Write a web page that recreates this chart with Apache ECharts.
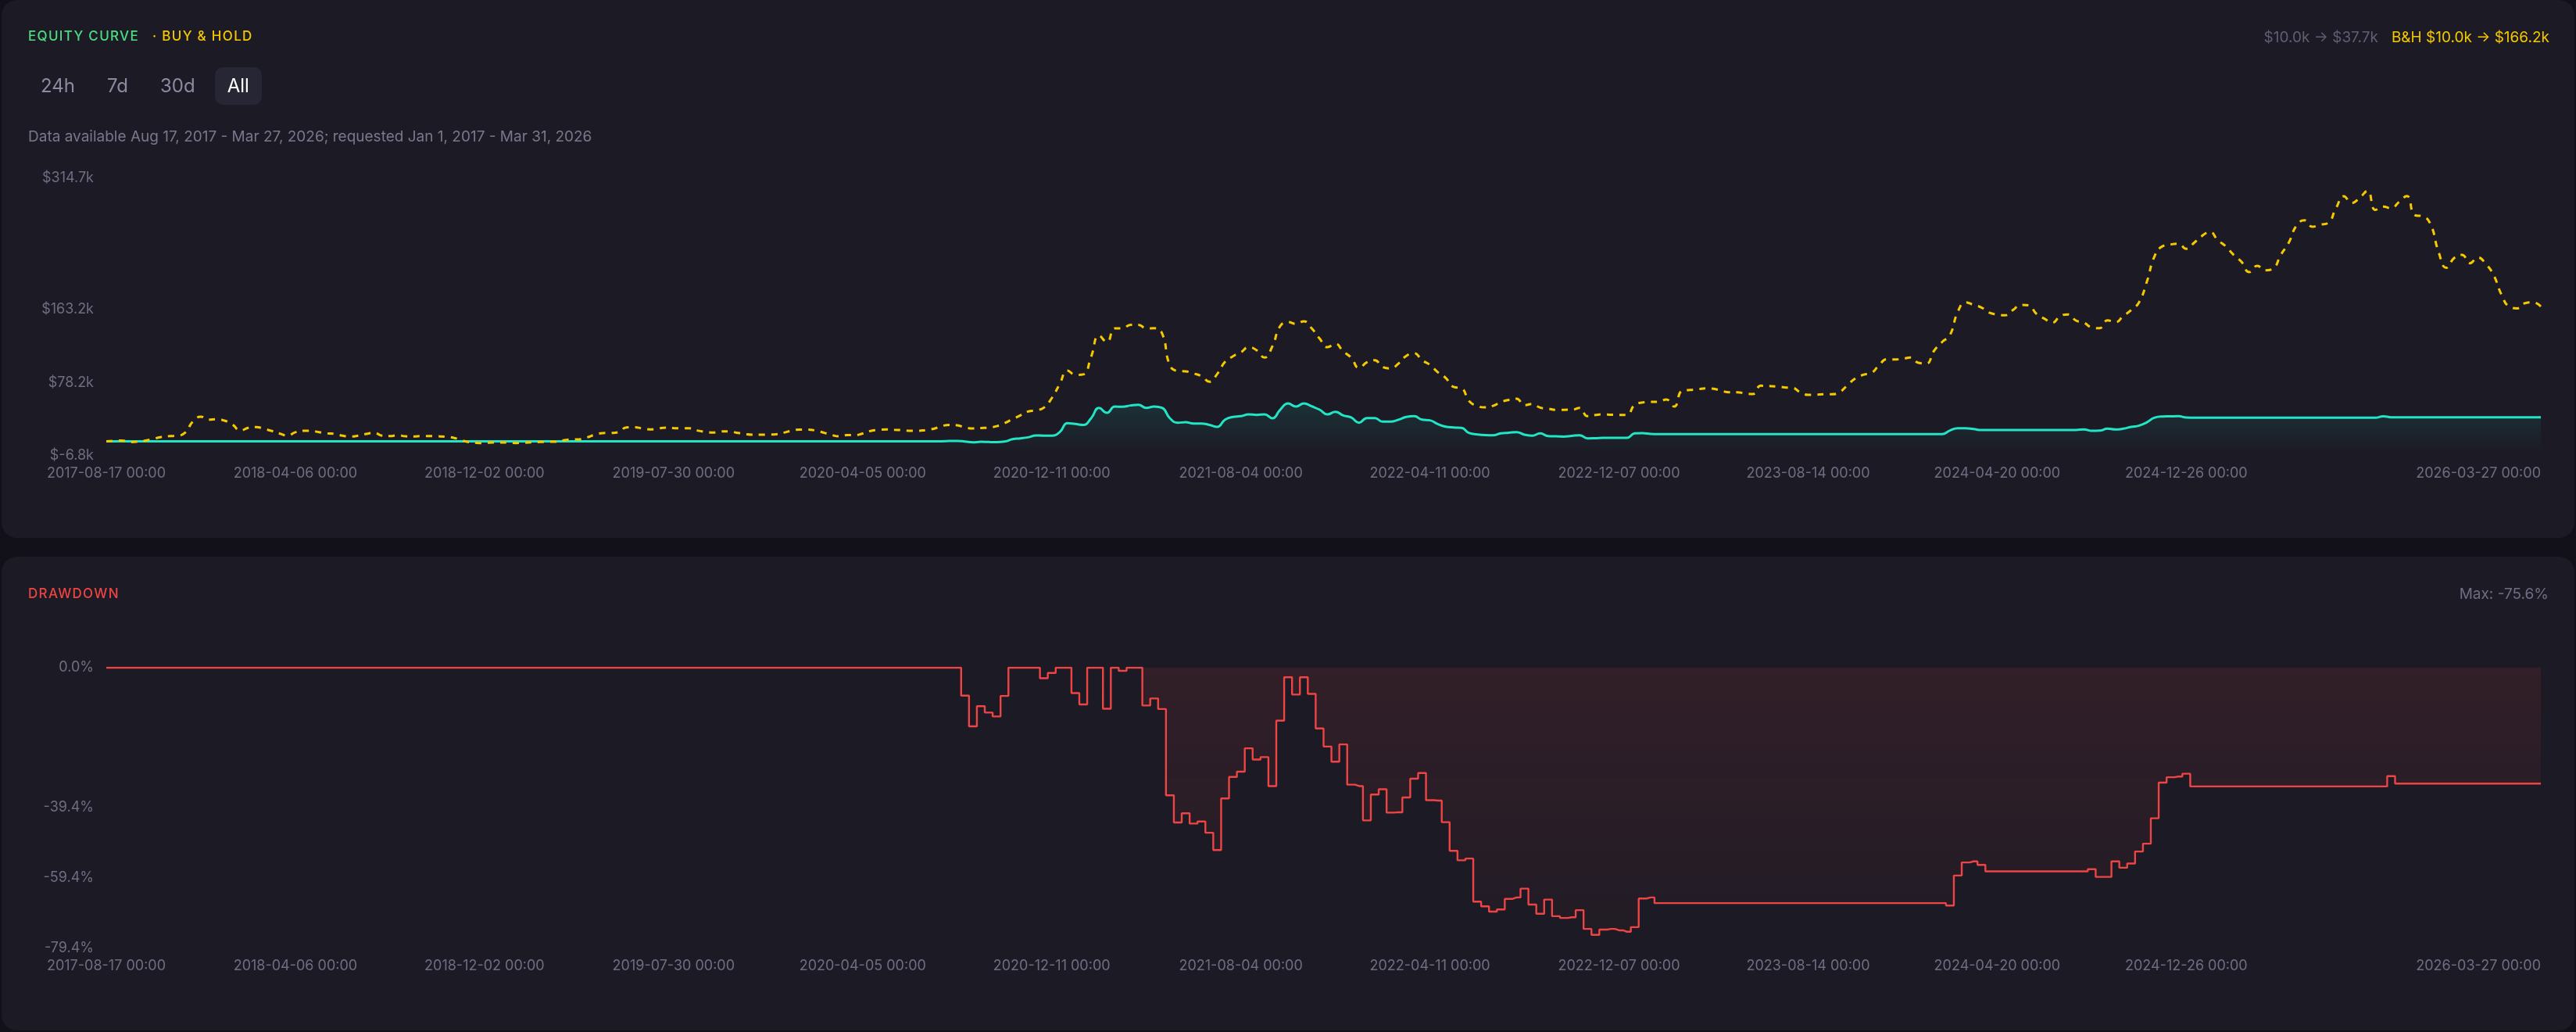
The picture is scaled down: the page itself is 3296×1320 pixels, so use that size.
<!DOCTYPE html>
<html>
<head>
<meta charset="utf-8">
<script src="https://cdn.jsdelivr.net/npm/echarts@6/dist/echarts.min.js"></script>
<style>
html,body{margin:0;padding:0;background:#12111a;width:3296px;height:1320px;overflow:hidden;font-family:Inter,"Noto Sans",sans-serif;}
.card{position:absolute;left:2px;width:3292px;background:#1c1b25;border-radius:20px;}
#c1{top:0;height:688px;}
#c2{top:712px;height:606px;}
.t{position:absolute;white-space:nowrap;height:30px;line-height:30px;}
.title{font-size:17px;letter-spacing:1.3px;font-weight:500;}
#btns{position:absolute;left:36px;top:86px;display:flex;gap:9px;}
.btn{height:48px;line-height:48px;padding:0 16px;font-size:24px;color:#8b8aa0;border-radius:10px;}
.btn.on{background:#272634;color:#ffffff;}
#chart{position:absolute;left:0;top:0;width:3296px;height:1320px;}
</style>
</head>
<body>
<div class="card" id="c1"></div>
<div class="card" id="c2"></div>
<div id="chart"></div>
<div class="t title" style="left:36px;top:31px;color:#4ade80;">EQUITY CURVE</div>
<div class="t title" style="left:195px;top:31px;color:#f5c800;">· BUY &amp; HOLD</div>
<div class="t" style="right:34px;top:33px;font-size:19px;"><span style="color:#5f5e73;">$10.0k → $37.7k</span><span style="color:#f5c800;margin-left:17px;">B&amp;H $10.0k → $166.2k</span></div>
<div id="btns"><div class="btn">24h</div><div class="btn">7d</div><div class="btn">30d</div><div class="btn on">All</div></div>
<div class="t" style="left:36px;top:160px;font-size:19px;color:#78778c;">Data available Aug 17, 2017 - Mar 27, 2026; requested Jan 1, 2017 - Mar 31, 2026</div>
<div class="t title" style="left:36px;top:744px;color:#ef4444;">DRAWDOWN</div>
<div class="t" style="right:35px;top:745px;font-size:19px;color:#6e6d82;">Max: -75.6%</div>
<script>
// ---- data ----
const tickDates = ['2017-08-17','2018-04-06','2018-12-02','2019-07-30','2020-04-05','2020-12-11','2021-08-04','2022-04-11','2022-12-07','2023-08-14','2024-04-20','2024-12-26','2026-03-27'];
const tickIndex = [0,24,48,72,96,120,144,168,192,216,240,264,309];
const equityTicks = [-6.8, 78.2, 163.2, 314.7];
const drawdownTicks = [0, -39.4, -59.4, -79.4];
// index of the equity peak that starts the current (max) drawdown period
const maxDrawdownStart = 131;

// Strategy equity, $k
const equityK = [
10,10,10,10,10,10,10,10,10,10,
10,10,10,10,10,10,10,10,10,10,
10,10,10,10,10,10,10,10,10,10,
10,10,10,10,10,10,10,10,10,10,
10,10,10,10,10,10,10,10,10,10,
10,10,10,10,10,10,10,10,10,10,
10,10,10,10,10,10,10,10,10,10,
10,10,10,10,10,10,10,10,10,10,
10,10,10,10,10,10,10,10,10,10,
10,10,10,10,10,10,10,10,10,10,
10,10,10,10,10,10,10,10.3,10.5,9.7,
8.8,9.4,9.2,9.1,9.7,12.5,13.4,14.6,16.8,16.5,
16.6,20.5,31.0,30.0,29.0,36.7,48.7,43.0,50.2,50.0,
51.5,52.3,48.7,50.2,48.7,36.7,31.5,32.1,30.6,30.6,
29.0,26.7,35.1,38.2,39.1,41.2,40.6,41.2,36.7,46.6,
53.9,50.2,53.9,50.5,46.6,41.2,44.2,40.0,37.6,31.5,
37.0,37.0,32.8,32.8,35.0,38.2,39.1,35.0,34.3,30.0,
27.0,26.0,25.5,19.5,18.0,17.2,17.0,19.2,20.0,20.7,
17.7,16.5,19.2,16.1,15.8,15.5,16.3,17.0,13.4,13.6,
14.0,14.0,14.0,14.0,19.2,19.5,18.6,18.3,18.3,18.3,
18.3,18.3,18.3,18.3,18.3,18.3,18.3,18.3,18.3,18.3,
18.3,18.3,18.3,18.3,18.3,18.3,18.3,18.3,18.3,18.3,
18.3,18.3,18.3,18.3,18.3,18.3,18.3,18.3,18.3,18.3,
18.3,18.3,18.3,18.3,22.5,25.2,25.2,24.2,23.1,23.1,
23.1,23.1,23.1,23.1,23.1,23.1,23.1,23.1,23.1,23.1,
23.1,23.8,22.1,22.3,24.6,23.7,24.6,26.7,28.2,32.0,
37.5,38.7,38.9,39.1,37.5,37.3,37.3,37.3,37.3,37.3,
37.3,37.3,37.3,37.3,37.3,37.3,37.3,37.3,37.3,37.3,
37.3,37.3,37.3,37.3,37.3,37.3,37.3,37.3,37.3,39.0,
37.8,37.7,37.7,37.7,37.7,37.7,37.7,37.7,37.7,37.7,
37.7,37.7,37.7,37.7,37.7,37.7,37.7,37.7,37.7,37.7
];

// Buy & hold equity, $k
const buyHoldK = [
10.0,10.4,10.9,9.0,9.5,10.9,13.0,15.0,16.0,16.4,
20.0,33.0,38.5,35.1,35.5,34.0,29.6,22.5,25.5,26.5,
24.5,22.0,19.0,16.6,20.5,22.1,22.1,20.5,19.2,18.5,
16.5,15.6,16.6,18.5,20.0,16.5,16.0,17.0,15.8,15.6,
16.0,16.0,15.8,15.4,14.2,11.5,9.1,8.2,8.0,8.6,
8.7,8.5,8.0,8.3,8.8,9.2,9.4,9.4,11.0,12.2,
12.3,14.5,17.6,19.5,19.7,20.5,26.0,26.3,25.0,23.8,
24.8,25.7,25.3,25.1,25.1,22.5,21.0,20.2,21.5,21.6,
20.0,18.5,17.6,17.6,17.9,18.2,20.0,22.3,23.6,23.6,
22.5,20.2,17.5,15.8,17.2,17.0,19.0,22.0,23.2,23.7,
23.3,23.0,22.2,22.1,23.0,24.5,27.5,29.0,28.5,26.0,
24.8,25.4,25.8,27.5,31.0,35.5,40.0,44.5,46.0,49.0,
60.0,76.0,92.0,87.0,87.5,108.0,132.5,125.0,140.8,141.0,
145.0,145.0,140.8,141.0,135.0,98.0,91.5,91.0,88.5,85.5,
79.0,88.0,102.0,108.5,113.0,119.0,115.5,107.0,120.0,143.5,
148.0,146.0,149.0,140.8,129.0,119.0,123.0,114.0,107.0,95.0,
101.5,104.0,96.0,94.5,100.0,109.0,112.0,104.0,98.5,90.0,
83.5,73.0,71.4,56.3,51.0,49.3,51.0,55.4,58.0,59.3,
51.8,53.2,49.0,47.8,46.4,46.5,46.6,48.7,39.1,40.5,
41.2,40.8,40.6,40.6,52.3,55.0,55.7,55.7,58.4,50.3,
68.4,69.5,70.3,71.4,70.8,68.5,66.8,66.8,65.5,64.7,
74.4,74.0,73.5,72.5,72.0,66.8,63.8,64.0,64.5,64.5,
67.0,75.0,83.0,87.0,89.0,98.0,105.0,104.8,105.5,107.0,
101.0,100.0,115.0,125.0,133.0,160.0,171.0,168.0,165.0,159.0,
157.0,156.0,162.0,168.0,167.4,157.4,152.0,147.4,155.0,157.0,
149.9,147.4,142.0,141.0,150.0,148.0,155.0,162.0,171.0,195.0,
225.0,236.0,238.0,238.9,233.0,240.0,248.0,252.5,243.0,236.0,
226.0,218.0,206.0,213.3,208.0,210.0,226.0,240.0,260.0,266.0,
258.6,261.0,263.0,280.0,293.9,286.0,292.0,300.0,278.0,281.8,
280.0,287.2,294.0,272.0,270.6,261.6,230.0,211.0,222.3,226.0,
216.3,223.0,215.7,202.7,180.0,166.0,164.0,170.0,171.0,166.2
];

// Strategy drawdown, %
const drawdownPct = [
0,0,0,0,0,0,0,0,0,0,
0,0,0,0,0,0,0,0,0,0,
0,0,0,0,0,0,0,0,0,0,
0,0,0,0,0,0,0,0,0,0,
0,0,0,0,0,0,0,0,0,0,
0,0,0,0,0,0,0,0,0,0,
0,0,0,0,0,0,0,0,0,0,
0,0,0,0,0,0,0,0,0,0,
0,0,0,0,0,0,0,0,0,0,
0,0,0,0,0,0,0,0,0,0,
0,0,0,0,0,0,0,0,0,-7.9,
-16.6,-10.9,-12.7,-13.8,-8.0,0,0,0,0,-3.0,
-1.5,0,0,-7.2,-10.4,0,0,-11.6,0,-0.9,
0,0,-10.7,-8.7,-11.7,-36.1,-43.8,-41.2,-44.1,-43.5,
-46.7,-51.6,-37.0,-30.9,-29.4,-22.8,-26.0,-25.3,-33.5,-15.0,
-2.7,-7.6,-2.7,-7.4,-17.2,-22.3,-26.6,-21.7,-33.1,-33.5,
-43.2,-35.9,-34.4,-41.0,-40.9,-36.7,-31.4,-29.8,-37.5,-37.6,
-43.7,-51.8,-54.5,-54.0,-66.2,-67.5,-69.0,-68.4,-65.4,-65.0,
-62.5,-67.0,-69.6,-65.6,-70.3,-70.8,-70.6,-68.6,-73.9,-75.6,
-74.1,-73.9,-74.3,-74.7,-73.4,-65.3,-65.0,-66.6,-66.6,-66.6,
-66.6,-66.6,-66.6,-66.6,-66.6,-66.6,-66.6,-66.6,-66.6,-66.6,
-66.6,-66.6,-66.6,-66.6,-66.6,-66.6,-66.6,-66.6,-66.6,-66.6,
-66.6,-66.6,-66.6,-66.6,-66.6,-66.6,-66.6,-66.6,-66.6,-66.6,
-66.6,-66.6,-66.6,-66.6,-67.3,-58.8,-55.1,-54.8,-55.8,-57.6,
-57.6,-57.6,-57.6,-57.6,-57.6,-57.6,-57.6,-57.6,-57.6,-57.6,
-57.6,-57.6,-57.0,-59.2,-59.2,-54.8,-56.6,-55.4,-52.0,-49.8,
-42.6,-32.5,-31.0,-30.8,-30.0,-33.6,-33.6,-33.6,-33.6,-33.6,
-33.6,-33.6,-33.6,-33.6,-33.6,-33.6,-33.6,-33.6,-33.6,-33.6,
-33.6,-33.6,-33.6,-33.6,-33.6,-33.6,-33.6,-33.6,-33.6,-33.6,
-30.7,-32.8,-32.8,-32.8,-32.8,-32.8,-32.8,-32.8,-32.8,-32.8,
-32.8,-32.8,-32.8,-32.8,-32.8,-32.8,-32.8,-32.8,-32.8,-32.8
];

// ---- category dates between the labelled anchor dates ----
const DAY = 86400000;
function fmt(d){
  const p = n => String(n).padStart(2,'0');
  return d.getUTCFullYear() + '-' + p(d.getUTCMonth()+1) + '-' + p(d.getUTCDate()) + ' 00:00';
}
const categories = [];
for (let k = 0; k < tickDates.length - 1; k++) {
  const a = Date.parse(tickDates[k] + 'T00:00:00Z');
  const b = Date.parse(tickDates[k+1] + 'T00:00:00Z');
  const n = tickIndex[k+1] - tickIndex[k];
  const span = (b - a) / DAY;
  for (let j = 0; j < n; j++) categories.push(fmt(new Date(a + Math.round(span * j / n) * DAY)));
}
categories.push(tickDates[tickDates.length-1] + ' 00:00');

// shaded part of the drawdown: only the current drawdown period
const drawdownShade = drawdownPct.map((v, i) => i >= maxDrawdownStart ? v : null);

const labelColor = '#6e6d82';
const chart = echarts.init(document.getElementById('chart'), null, {renderer:'canvas'});
const xAx = k => ({
  type:'category', gridIndex:k, data:categories, boundaryGap:false,
  axisLine:{show:false}, axisTick:{show:false}, splitLine:{show:false},
  axisLabel:{color:labelColor, fontSize:18, fontFamily:'Inter', margin:14,
    interval:(i) => tickIndex.indexOf(i) >= 0, alignMaxLabel:'right'}
});
chart.setOption({
  animation:false,
  backgroundColor:'transparent',
  textStyle:{fontFamily:'Inter'},
  grid:[
    {left:136, right:45, top:228, height:355},
    {left:136, right:45, top:854, height:359}
  ],
  xAxis:[xAx(0), xAx(1)],
  yAxis:[
    {type:'value', gridIndex:0, min:-6.8, max:314.7,
     splitLine:{show:false}, axisLine:{show:false}, axisTick:{show:false},
     axisLabel:{color:labelColor, fontSize:18, fontFamily:'Inter', margin:16, customValues:equityTicks,
       formatter:v => '$' + v.toFixed(1) + 'k'}},
    {type:'value', gridIndex:1, min:-79.4, max:0,
     splitLine:{show:false}, axisLine:{show:false}, axisTick:{show:false},
     axisLabel:{color:labelColor, fontSize:18, fontFamily:'Inter', margin:16, customValues:drawdownTicks,
       formatter:v => v.toFixed(1) + '%'}}
  ],
  series:[
    {name:'Equity', type:'line', xAxisIndex:0, yAxisIndex:0, data:equityK, smooth:true,
     showSymbol:false, z:2,
     lineStyle:{color:'#22e5c6', width:3},
     areaStyle:{color:new echarts.graphic.LinearGradient(0,0,0,1,[
       {offset:0,color:'rgba(34,229,198,0.16)'},{offset:1,color:'rgba(34,229,198,0.01)'}])}},
    {name:'Buy & Hold', type:'line', xAxisIndex:0, yAxisIndex:0, data:buyHoldK, smooth:true,
     showSymbol:false, z:3,
     lineStyle:{color:'#f5c800', width:3, type:[8,8]}},
    {name:'Drawdown area', type:'line', xAxisIndex:1, yAxisIndex:1, data:drawdownShade, step:'middle',
     showSymbol:false, z:1, silent:true,
     lineStyle:{width:0, opacity:0},
     areaStyle:{color:new echarts.graphic.LinearGradient(0,0,0,1,[
       {offset:0,color:'rgba(239,68,68,0.15)'},{offset:1,color:'rgba(239,68,68,0.04)'}])}},
    {name:'Drawdown', type:'line', xAxisIndex:1, yAxisIndex:1, data:drawdownPct, step:'middle',
     showSymbol:false, z:2,
     lineStyle:{color:'#ef4444', width:2.4}}
  ]
});
</script>
</body>
</html>
